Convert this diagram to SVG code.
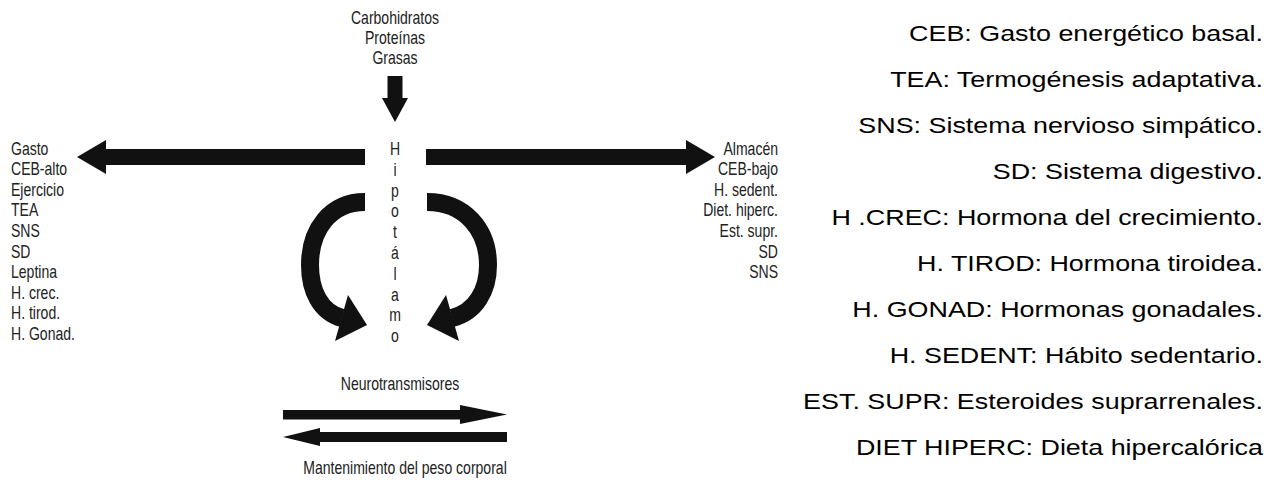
<svg xmlns="http://www.w3.org/2000/svg" width="1271" height="480" viewBox="0 0 1271 480">
<style>
.n{font-family:"Liberation Sans",Arial,sans-serif;font-size:18px;fill:#222}
.c{text-anchor:middle}
.e{text-anchor:end}
.lg{font-family:"Liberation Sans",Arial,sans-serif;font-size:21.5px;fill:#000;text-anchor:end}
.ar{fill:#111;stroke:none}
.arc{fill:none;stroke:#111;stroke-width:18}
</style>
<rect width="1271" height="480" fill="#fff"/>
<g id="connectors">
<polygon class="ar" points="387.5,76 402.5,76 402.5,98 408,98 395,122 382,98 387.5,98"/>
<polygon class="ar" points="365,149 106,149 106,140 77,157 106,174 106,165 365,165"/>
<polygon class="ar" points="426,149 686,149 686,140 715,157 686,174 686,165 426,165"/>
<path class="arc" d="M365,202 C330,202 310,230 310,265 C310,290 320,312 342,318"/>
<polygon class="ar" points="348,295 367,325 335,341"/>
<path class="arc" d="M427,202 C465,202 488,230 488,265 C488,290 476,312 452,318"/>
<polygon class="ar" points="446,295 427,325 459,341"/>
<polygon class="ar" points="283,410 460,410 460,405 507,414.5 460,424 460,419.5 283,419.5"/>
<polygon class="ar" points="507,432 320,432 320,428 283,437 320,446 320,442 507,442"/>
</g>
<g id="inputs">
<text class="n c" transform="translate(395,23.5) scale(0.78,1)">Carbohidratos</text>
<text class="n c" transform="translate(395,43.5) scale(0.78,1)">Proteínas</text>
<text class="n c" transform="translate(395,63.5) scale(0.78,1)">Grasas</text>
</g>
<g id="hipotalamo">
<text class="n c" transform="translate(395,155) scale(0.78,1)">H</text>
<text class="n c" transform="translate(395,175.8) scale(0.78,1)">i</text>
<text class="n c" transform="translate(395,196.6) scale(0.78,1)">p</text>
<text class="n c" transform="translate(395,217.4) scale(0.78,1)">o</text>
<text class="n c" transform="translate(395,238.2) scale(0.78,1)">t</text>
<text class="n c" transform="translate(395,259) scale(0.78,1)">á</text>
<text class="n c" transform="translate(395,279.8) scale(0.78,1)">l</text>
<text class="n c" transform="translate(395,300.6) scale(0.78,1)">a</text>
<text class="n c" transform="translate(395,321.4) scale(0.78,1)">m</text>
<text class="n c" transform="translate(395,342.2) scale(0.78,1)">o</text>
</g>
<g id="gasto">
<text class="n" transform="translate(11,154.5) scale(0.78,1)">Gasto</text>
<text class="n" transform="translate(11,175.1) scale(0.78,1)">CEB-alto</text>
<text class="n" transform="translate(11,195.7) scale(0.78,1)">Ejercicio</text>
<text class="n" transform="translate(11,216.3) scale(0.78,1)">TEA</text>
<text class="n" transform="translate(11,236.9) scale(0.78,1)">SNS</text>
<text class="n" transform="translate(11,257.5) scale(0.78,1)">SD</text>
<text class="n" transform="translate(11,278.1) scale(0.78,1)">Leptina</text>
<text class="n" transform="translate(11,298.7) scale(0.78,1)">H. crec.</text>
<text class="n" transform="translate(11,319.3) scale(0.78,1)">H. tirod.</text>
<text class="n" transform="translate(11,339.9) scale(0.78,1)">H. Gonad.</text>
</g>
<g id="almacen">
<text class="n e" transform="translate(778,154.5) scale(0.78,1)">Almacén</text>
<text class="n e" transform="translate(778,175.1) scale(0.78,1)">CEB-bajo</text>
<text class="n e" transform="translate(778,195.7) scale(0.78,1)">H. sedent.</text>
<text class="n e" transform="translate(778,216.3) scale(0.78,1)">Diet. hiperc.</text>
<text class="n e" transform="translate(778,236.9) scale(0.78,1)">Est. supr.</text>
<text class="n e" transform="translate(778,257.5) scale(0.78,1)">SD</text>
<text class="n e" transform="translate(778,278.1) scale(0.78,1)">SNS</text>
</g>
<g id="neurotransmisores">
<text class="n c" transform="translate(400,389.5) scale(0.78,1)">Neurotransmisores</text>
</g>
<g id="mantenimiento">
<text class="n c" transform="translate(405,474) scale(0.78,1)">Mantenimiento del peso corporal</text>
</g>
<g id="legend">
<text class="lg" transform="translate(1263,41) scale(1.25,1)">CEB: Gasto energético basal.</text>
<text class="lg" transform="translate(1263,87) scale(1.25,1)">TEA: Termogénesis adaptativa.</text>
<text class="lg" transform="translate(1263,133) scale(1.25,1)">SNS: Sistema nervioso simpático.</text>
<text class="lg" transform="translate(1263,179) scale(1.25,1)">SD: Sistema digestivo.</text>
<text class="lg" transform="translate(1263,225) scale(1.25,1)">H .CREC: Hormona del crecimiento.</text>
<text class="lg" transform="translate(1263,271) scale(1.25,1)">H. TIROD: Hormona tiroidea.</text>
<text class="lg" transform="translate(1263,317) scale(1.25,1)">H. GONAD: Hormonas gonadales.</text>
<text class="lg" transform="translate(1263,363) scale(1.25,1)">H. SEDENT: Hábito sedentario.</text>
<text class="lg" transform="translate(1263,409) scale(1.25,1)">EST. SUPR: Esteroides suprarrenales.</text>
<text class="lg" transform="translate(1263,455) scale(1.25,1)">DIET HIPERC: Dieta hipercalórica</text>
</g>
</svg>
